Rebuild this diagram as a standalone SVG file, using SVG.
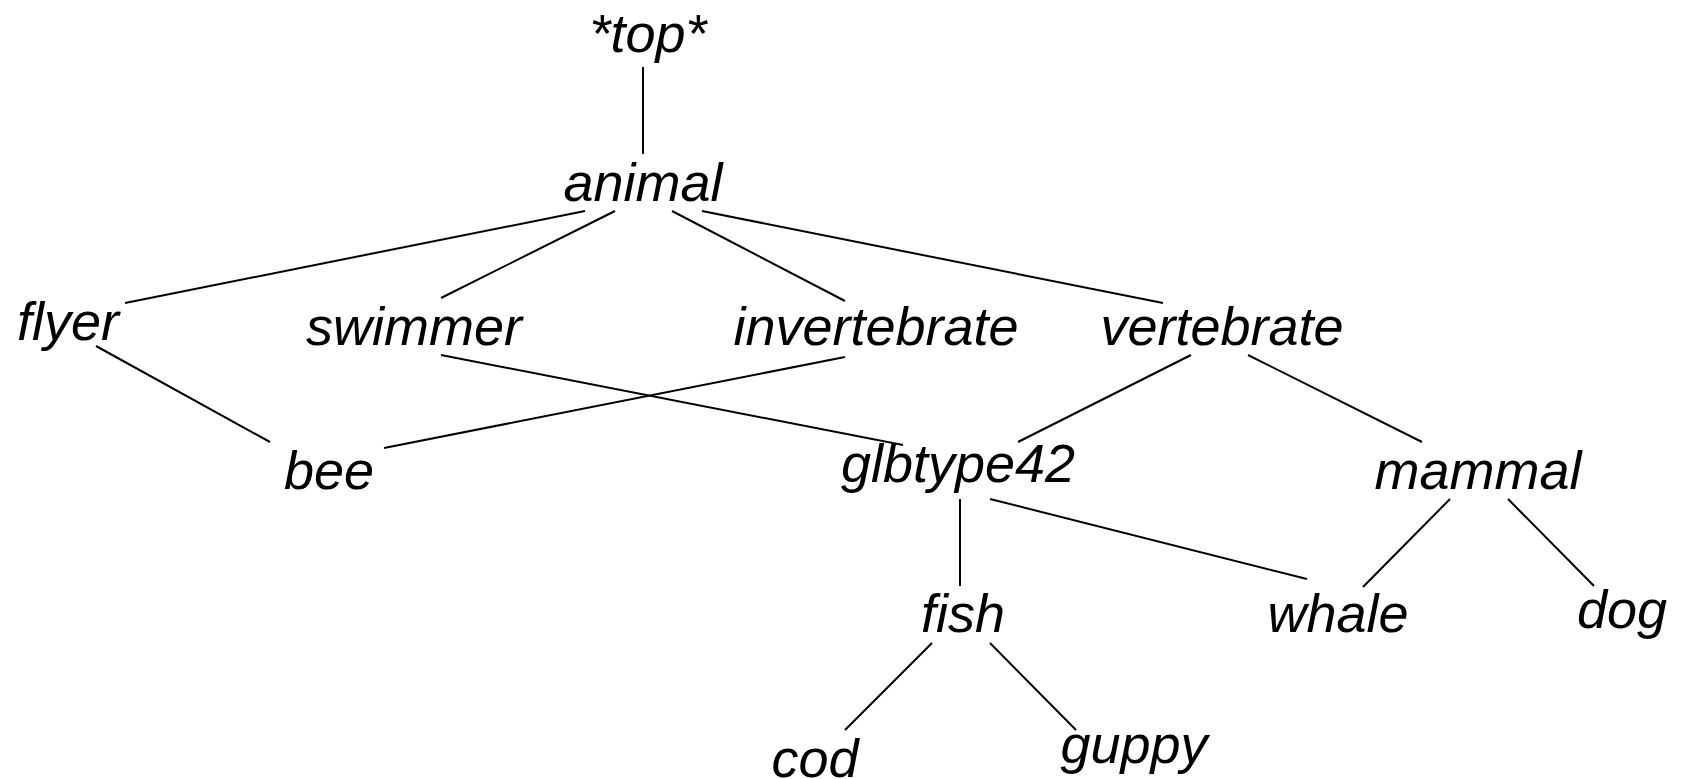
<svg xmlns="http://www.w3.org/2000/svg" width="1684" height="779" viewBox="0 0 1684 779">
<style>
text{font-family:"Liberation Sans",Arial,sans-serif;font-style:italic;font-size:54px;fill:#000;text-anchor:middle}
#connectors line{stroke:#000;stroke-width:2;fill:none}
</style>
<rect width="1684" height="779" fill="#fff"/>
<g id="connectors">
<line x1="643" y1="67" x2="643" y2="154"/>
<line x1="585" y1="211" x2="125" y2="303"/>
<line x1="615" y1="211" x2="441" y2="298"/>
<line x1="672" y1="211" x2="845" y2="301"/>
<line x1="702" y1="211" x2="1163" y2="303"/>
<line x1="96" y1="346" x2="270" y2="442"/>
<line x1="441" y1="355" x2="903" y2="445"/>
<line x1="845" y1="357" x2="384" y2="448"/>
<line x1="1191" y1="355" x2="1018" y2="442"/>
<line x1="1248" y1="355" x2="1422" y2="442"/>
<line x1="960" y1="499" x2="960" y2="586"/>
<line x1="990" y1="499" x2="1307" y2="579"/>
<line x1="1450" y1="499" x2="1363" y2="587"/>
<line x1="1508" y1="499" x2="1594" y2="586"/>
<line x1="932" y1="643" x2="845" y2="730"/>
<line x1="990" y1="643" x2="1076" y2="730"/>
</g>
<g id="top"><text x="648" y="52">*top*</text></g>
<g id="animal"><text x="643" y="201">animal</text></g>
<g id="flyer"><text x="68" y="340">flyer</text></g>
<g id="swimmer"><text x="414" y="345">swimmer</text></g>
<g id="invertebrate"><text x="876" y="345">invertebrate</text></g>
<g id="vertebrate"><text x="1222" y="345">vertebrate</text></g>
<g id="bee"><text x="329" y="489">bee</text></g>
<g id="glbtype42"><text x="958" y="482">glbtype42</text></g>
<g id="mammal"><text x="1478" y="489">mammal</text></g>
<g id="fish"><text x="963" y="632">fish</text></g>
<g id="whale"><text x="1338" y="632">whale</text></g>
<g id="dog"><text x="1622" y="628">dog</text></g>
<g id="cod"><text x="815" y="777">cod</text></g>
<g id="guppy"><text x="1134" y="763">guppy</text></g>
</svg>
